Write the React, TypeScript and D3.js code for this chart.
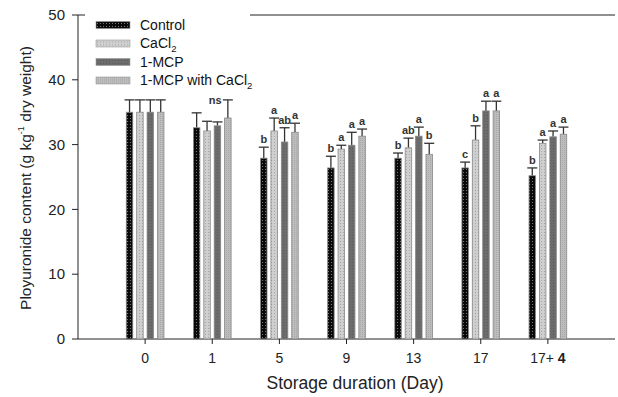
import React from 'react';
import * as d3 from 'd3';

// storage days on the x axis
const days = ['0', '1', '5', '9', '13', '17', '17+ 4'];
const treatments = ['Control', 'CaCl2', '1-MCP', '1-MCP with CaCl2'];

// mean values per treatment (g kg-1 dry weight)
const control = [35.0, 32.6, 27.9, 26.4, 27.9, 26.4, 25.2];
const cacl2 = [35.0, 32.1, 32.1, 29.3, 29.5, 30.7, 30.2];
const mcp = [35.0, 32.9, 30.4, 29.9, 31.3, 35.2, 31.2];
const mcpCacl2 = [35.0, 34.1, 31.9, 31.3, 28.5, 35.2, 31.6];

// standard error (upper bar only)
const controlErr = [1.9, 2.3, 1.7, 1.8, 0.8, 0.9, 1.2];
const cacl2Err = [1.9, 1.5, 2.0, 0.6, 1.5, 2.2, 0.5];
const mcpErr = [1.9, 0.6, 2.2, 2.0, 1.4, 1.5, 0.9];
const mcpCacl2Err = [1.9, 2.8, 1.4, 1.1, 1.7, 1.5, 1.1];

// significance letters
const controlSig = ['', '', 'b', 'b', 'b', 'c', 'b'];
const cacl2Sig = ['', '', 'a', 'a', 'ab', 'b', 'a'];
const mcpSig = ['', '', 'ab', 'a', 'a', 'a', 'a'];
const mcpCacl2Sig = ['', '', 'a', 'a', 'b', 'a', 'a'];

const yTicks = [0, 10, 20, 30, 40, 50];

const series = [
  { name: treatments[0], values: control, err: controlErr, sig: controlSig, fill: 'url(#pControl)' },
  { name: treatments[1], values: cacl2, err: cacl2Err, sig: cacl2Sig, fill: 'url(#pCacl2)' },
  { name: treatments[2], values: mcp, err: mcpErr, sig: mcpSig, fill: 'url(#pMcp)' },
  { name: treatments[3], values: mcpCacl2, err: mcpCacl2Err, sig: mcpCacl2Sig, fill: 'url(#pMcpCa)' },
];

const font = 'Arial, "Liberation Sans", Helvetica, sans-serif';

const App = () => {
  const left = 78;
  const right = 615;
  const top = 15;
  const bottom = 339;

  const x = d3.scaleLinear().domain([0, days.length + 1]).range([left, right]);
  const y = d3.scaleLinear().domain([0, 50]).range([bottom, top]);

  const barW = 6.5;
  const step = 10.4;
  const offsets = [-1.5, -0.5, 0.5, 1.5].map(k => k * step);

  return (
    <svg
      width={618}
      height={397}
      style={{ position: 'absolute', left: 0, top: 0, background: '#fff', fontFamily: font }}
    >
      <defs>
        <pattern id="pControl" width="3" height="3" patternUnits="userSpaceOnUse">
          <rect width="3" height="3" fill="#0a0a0a" />
          <rect x="1" y="1" width="1" height="1" fill="#777" />
        </pattern>
        <pattern id="pCacl2" width="3" height="3" patternUnits="userSpaceOnUse">
          <rect width="3" height="3" fill="#cfcfcf" />
          <rect x="1" y="1" width="1" height="1" fill="#a5a5a5" />
        </pattern>
        <pattern id="pMcp" width="3" height="3" patternUnits="userSpaceOnUse">
          <rect width="3" height="3" fill="#6c6c6c" />
          <rect x="1" y="1" width="1" height="1" fill="#5c5c5c" />
        </pattern>
        <pattern id="pMcpCa" width="2" height="2" patternUnits="userSpaceOnUse">
          <rect width="2" height="2" fill="#bdbdbd" />
          <rect width="1" height="1" fill="#a8a8a8" />
        </pattern>
      </defs>

      {/* frame: top line, left axis, bottom axis */}
      <line x1={left} x2={right} y1={top} y2={top} stroke="#222" strokeWidth={1} />
      <line x1={left} x2={left} y1={top} y2={bottom} stroke="#222" strokeWidth={1} />
      <line x1={left} x2={right} y1={bottom} y2={bottom} stroke="#222" strokeWidth={1} />

      {/* y ticks */}
      {yTicks.map(t => (
        <g key={t}>
          <line x1={left - 6} x2={left} y1={y(t)} y2={y(t)} stroke="#222" />
          <text x={left - 13} y={y(t)} dy="0.35em" textAnchor="end" fontSize={15} fill="#222">
            {t}
          </text>
        </g>
      ))}

      {/* x ticks */}
      {days.map((d, i) => (
        <g key={d}>
          <line x1={x(i + 1)} x2={x(i + 1)} y1={bottom} y2={bottom + 5} stroke="#222" />
          <text x={x(i + 1)} y={bottom + 19} dy="0.35em" textAnchor="middle" fontSize={14} fill="#222">
            {d === '17+ 4' ? (
              <>
                17+ <tspan fontWeight="bold">4</tspan>
              </>
            ) : (
              d
            )}
          </text>
        </g>
      ))}

      {/* bars with upper error bars */}
      {series.map((s, si) =>
        s.values.map((v, i) => {
          const cx = x(i + 1) + offsets[si];
          const capY = y(v + s.err[i]);
          return (
            <g key={`${si}-${i}`}>
              <line x1={cx} x2={cx} y1={y(v)} y2={capY} stroke="#333" strokeWidth={1.3} />
              <line x1={cx - 5} x2={cx + 5} y1={capY} y2={capY} stroke="#333" strokeWidth={1.3} />
              <rect
                x={cx - barW / 2}
                y={y(v)}
                width={barW}
                height={bottom - y(v)}
                fill={s.fill}
                stroke="#888"
                strokeWidth={0.8}
              />
              {s.sig[i] && (
                <text x={cx} y={capY - 4} textAnchor="middle" fontSize={11} fontWeight="bold" fill="#333">
                  {s.sig[i]}
                </text>
              )}
            </g>
          );
        })
      )}

      {/* ns over day 1 */}
      <text x={x(2) + 3} y={104} textAnchor="middle" fontSize={11} fontWeight="bold" fill="#333">
        ns
      </text>

      {/* legend */}
      <rect x={85} y={10} width={165} height={80} fill="#fff" />
      {series.map((s, i) => (
        <g key={s.name} transform={`translate(96, ${25 + i * 18.5})`}>
          <rect x={0} y={-3.5} width={34} height={7} fill={s.fill} stroke="#999" strokeWidth={0.6} />
          <text x={44} y={0} dy="0.35em" fontSize={14} fill="#111">
            {s.name.includes('CaCl2') ? (
              <>
                {s.name.replace('CaCl2', 'CaCl')}
                <tspan fontSize={9.5} dy={4}>
                  2
                </tspan>
              </>
            ) : (
              s.name
            )}
          </text>
        </g>
      ))}

      {/* axis titles */}
      <text
        transform={`translate(31, 178) rotate(-90)`}
        textAnchor="middle"
        fontSize={15.5}
        fill="#222"
      >
        Ployuronide content (g kg
        <tspan fontSize={9} dy={-7}>
          -1
        </tspan>
        <tspan dy={7}> dry weight)</tspan>
      </text>
      <text x={355} y={389} textAnchor="middle" fontSize={17.5} fill="#222">
        Storage duration (Day)
      </text>
    </svg>
  );
};

export default App;
